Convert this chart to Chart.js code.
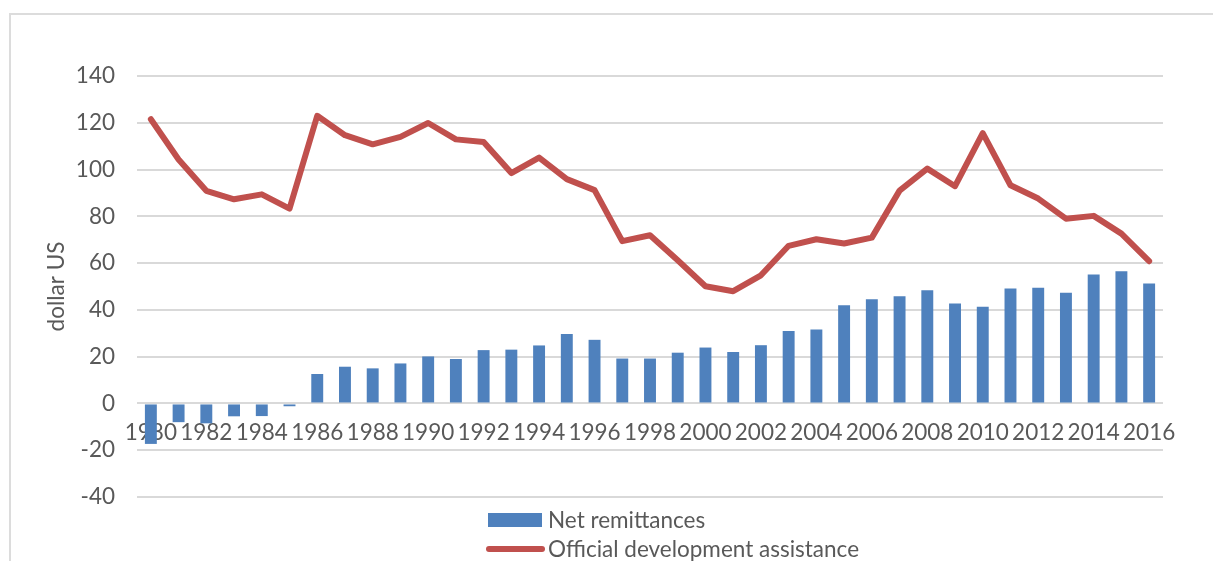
<!DOCTYPE html>
<html>
<head>
<meta charset="utf-8">
<script src="https://cdn.jsdelivr.net/npm/chart.js@4.4.1/dist/chart.umd.min.js"></script>
<style>
  html, body {
    margin: 0;
    padding: 0;
    background: #ffffff;
  }

  .wrap {
    position: relative;
    width: 1213px;
    height: 561px;
    overflow: hidden;
    font-family: Lato, "Liberation Sans", sans-serif;
  }

  .frame {
    position: absolute;
    left: 9px;
    top: 13px;
    width: 1300px;
    height: 700px;
    border-top: 2px solid #dcdcdc;
    border-left: 2px solid #dcdcdc;
  }

  #grafico {
    position: absolute;
    left: 0;
    top: 0;
  }

  .legenda {
    position: absolute;
    left: 486px;
    top: 505px;
    color: #595959;
    font-size: 22.5px;
  }

  .legenda .item {
    display: flex;
    align-items: center;
    height: 29px;
  }

  .legenda .caixa {
    width: 54px;
    height: 14px;
    margin-left: 2px;
    margin-right: 6px;
    background: #4f81bd;
  }

  .legenda .linha {
    width: 59px;
    height: 6px;
    margin-right: 3px;
    border-radius: 3px;
    background: #c0504d;
  }
</style>
</head>
<body>
<div class="wrap">
  <div class="frame"></div>
  <canvas id="grafico" width="1213" height="561"></canvas>
  <div class="legenda">
    <div class="item"><span class="caixa"></span><span>Net remittances</span></div>
    <div class="item"><span class="linha"></span><span>Official development assistance</span></div>
  </div>
</div>

<script>
const anos = [
  "1980", "1981", "1982", "1983", "1984", "1985", "1986", "1987", "1988", "1989",
  "1990", "1991", "1992", "1993", "1994", "1995", "1996", "1997", "1998", "1999",
  "2000", "2001", "2002", "2003", "2004", "2005", "2006", "2007", "2008", "2009",
  "2010", "2011", "2012", "2013", "2014", "2015", "2016"
];

const remessas = [
  -17.3, -8, -8.5, -5.5, -5.4, -1.2, 12.6, 15.7, 15, 17.1,
  20.1, 19, 22.8, 23, 24.8, 29.7, 27.2, 19.2, 19.2, 21.7,
  23.9, 22, 24.9, 31, 31.6, 42, 44.6, 45.8, 48.4, 42.7,
  41.3, 49.1, 49.5, 47.3, 55.1, 56.5, 51.3
];

const ajuda = [
  121.5, 104.3, 90.9, 87.3, 89.4, 83.3, 123, 114.7, 110.8, 114,
  119.9, 112.9, 111.8, 98.5, 105.1, 95.9, 91.2, 69.4, 71.9, 61.2,
  50.1, 48, 54.8, 67.4, 70.2, 68.4, 70.9, 91, 100.4, 92.9,
  115.6, 93.3, 87.6, 79, 80.2, 72.6, 60.8
];

const yTicks = { min: -40, max: 140, passo: 20 };

const corTexto = "#595959";
const fonte = { family: "Lato, 'Liberation Sans', sans-serif", size: 22.5 };

new Chart(document.getElementById("grafico"), {
  data: {
    labels: anos,
    datasets: [
      {
        type: "line",
        label: "Official development assistance",
        data: ajuda,
        borderColor: "#c0504d",
        backgroundColor: "#c0504d",
        borderWidth: 6,
        tension: 0,
        pointRadius: 0,
        borderJoinStyle: "round",
        borderCapStyle: "round"
      },
      {
        type: "bar",
        label: "Net remittances",
        data: remessas,
        backgroundColor: "#4f81bd",
        barPercentage: 0.43,
        categoryPercentage: 1
      }
    ]
  },
  options: {
    responsive: false,
    animation: false,
    layout: {
      padding: { left: 0, top: 76, right: 50, bottom: 64 }
    },
    plugins: {
      legend: { display: false },
      tooltip: { enabled: false }
    },
    scales: {
      x: {
        type: "category",
        position: { y: 0 },
        grid: { display: false, drawTicks: false },
        border: { display: false },
        ticks: {
          autoSkip: false,
          maxRotation: 0,
          padding: 16,
          color: corTexto,
          font: fonte,
          callback: (valor, i) => (i % 2 === 0 ? anos[i] : "")
        }
      },
      y: {
        min: yTicks.min,
        max: yTicks.max,
        afterFit: (escala) => {
          escala.width = 137;
        },
        grid: { color: "#d9d9d9", lineWidth: 2, drawTicks: false },
        border: { display: false },
        ticks: {
          stepSize: yTicks.passo,
          padding: 22,
          color: corTexto,
          font: fonte
        },
        title: {
          display: true,
          text: "dollar US",
          color: corTexto,
          font: fonte,
          padding: { top: 43, bottom: 0 }
        }
      }
    }
  }
});
</script>
</body>
</html>
